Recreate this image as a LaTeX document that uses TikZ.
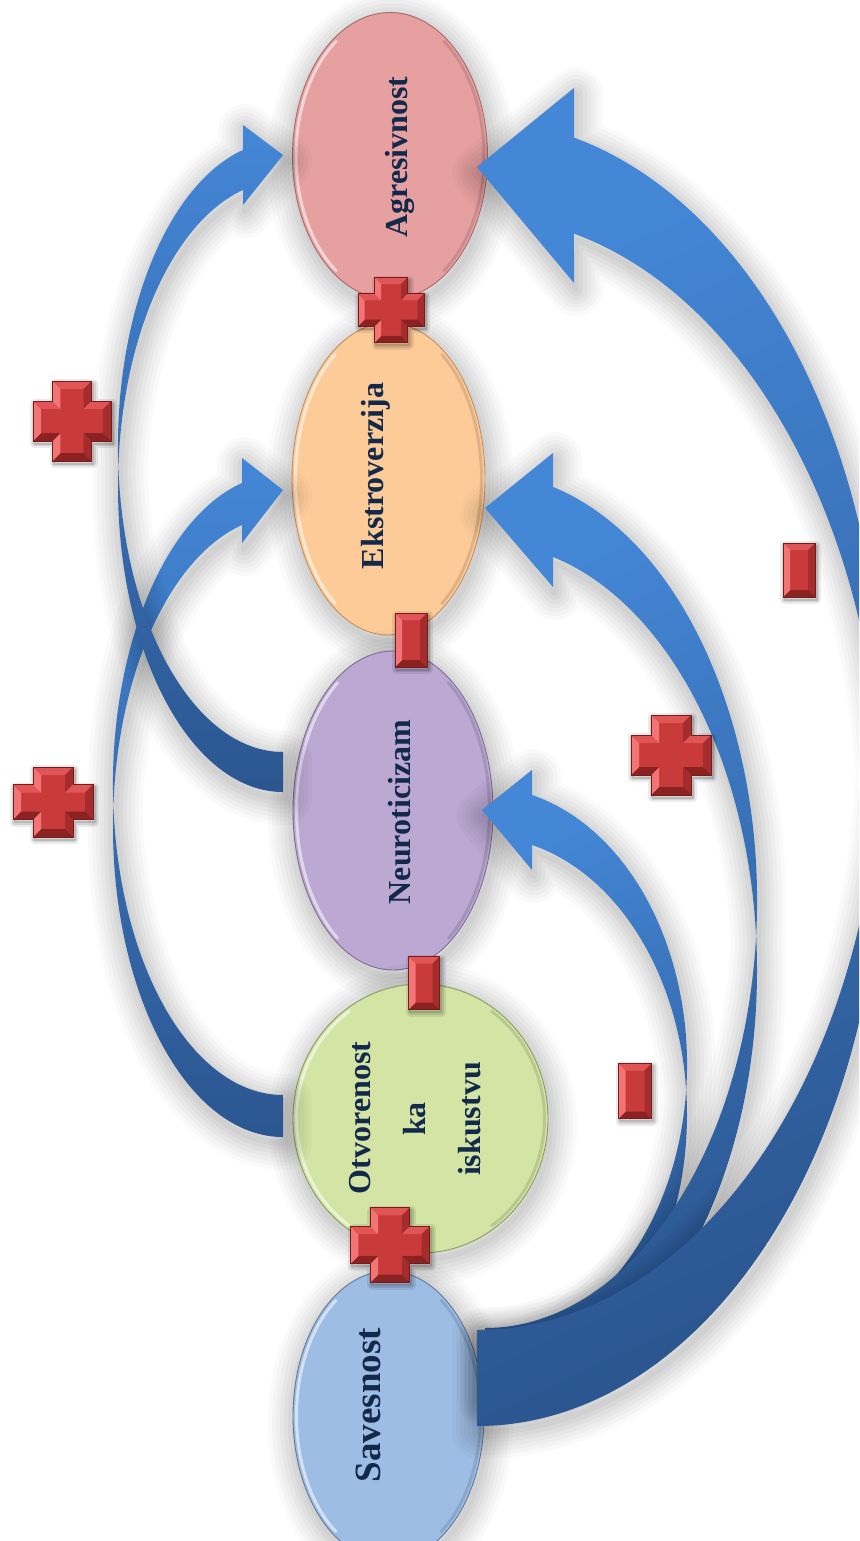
\documentclass[tikz,border=0pt]{standalone}
\usepackage{fontspec}
\setmainfont{Liberation Serif}
\usetikzlibrary{shapes.geometric}

\definecolor{txt}{HTML}{13294B}
\definecolor{agrfill}{HTML}{E6A0A0}
\definecolor{agrline}{HTML}{A86A6A}
\definecolor{ekfill}{HTML}{FDCB98}
\definecolor{ekline}{HTML}{C39160}
\definecolor{neufill}{HTML}{BBA8D3}
\definecolor{neuline}{HTML}{7E6C96}
\definecolor{otvfill}{HTML}{D3E4A4}
\definecolor{otvline}{HTML}{8C9C5E}
\definecolor{savfill}{HTML}{9EBDE4}
\definecolor{savline}{HTML}{62799A}
\definecolor{bandlight}{HTML}{4487D7}
\definecolor{banddark}{HTML}{2B5690}
\definecolor{signbase}{HTML}{C93B3B}
\definecolor{signlite}{HTML}{F27474}
\definecolor{signtop}{HTML}{E05656}
\definecolor{signright}{HTML}{A42C2C}
\definecolor{signbot}{HTML}{8A2222}
\definecolor{signedge}{HTML}{7A1A1A}

\tikzset{
  % one ring of a soft drop shadow
  hazering/.style 2 args={preaction={draw=black, draw opacity=#2, line width=#1,
      line join=round, transform canvas={xshift=2pt, yshift=-6pt}}},
  softshadow/.style={hazering={54pt}{.02}, hazering={46pt}{.022}, hazering={38pt}{.024},
      hazering={30pt}{.026}, hazering={22pt}{.028}, hazering={14pt}{.03},
      hazering={6pt}{.03}},
  signshadow/.style={preaction={draw=black, draw opacity=.08, line width=9pt, line join=round,
      transform canvas={xshift=1.5pt, yshift=-2.5pt}},
    preaction={draw=black, draw opacity=.1, line width=5pt, line join=round,
      transform canvas={xshift=1.5pt, yshift=-2.5pt}},
    preaction={draw=black, draw opacity=.12, line width=2pt, line join=round,
      transform canvas={xshift=1.5pt, yshift=-2.5pt}}},
  oval/.style={ellipse, inner sep=0pt, line width=0.9pt, softshadow},
  lbl/.style={text=txt, inner sep=0pt, rotate=90, anchor=base,
    font=\fontsize{32}{38}\selectfont\bfseries},
  rimlight/.style={white, opacity=0.55, line width=3pt, line cap=round},
  rimdark/.style={black, opacity=0.12, line width=3pt, line cap=round},
}

% bevel rims of an oval: light on the left, shaded on the right
\newcommand\ovalrims[3]{%
  \draw[rimlight] (#1.center) ++(125:#2 and #3)
    arc[start angle=125, end angle=235, x radius=#2, y radius=#3];
  \draw[rimdark] (#1.center) ++(-55:#2 and #3)
    arc[start angle=-55, end angle=55, x radius=#2, y radius=#3];
}

% curved block arrow: two equal half-ellipses offset vertically by the band thickness
% #1 x of tail and tip, #2 lower edge of tail, #3 thickness, #4 x radius, #5 y radius,
% #6 x of arrowhead base, #7 top of head, #8 bottom of head, #9 y of tip
\newcommand\bandarrow[9]{%
  \pgfmathsetmacro\bandal{acos(abs(#6-#1)/#4)}%
  \pgfmathsetmacro\bandsg{(#1-#6)/abs(#1-#6)}%
  \pgfmathsetmacro\banden{90+\bandsg*(90+\bandal)}%
  \pgfmathsetmacro\bandyt{#2-#3-#5-#5*sin(\bandal)}%
  \path[bandstyle] (#1,#2)
    arc[start angle=90, end angle=\banden, x radius=#4, y radius=#5]
    -- (#6,#8) -- (#1,#9) -- (#6,#7) -- (#6,\bandyt)
    arc[start angle=\banden, end angle=90, x radius=#4, y radius=#5] -- cycle;
}

% bevelled plus sign: centre x, centre y, half width, half height
\newcommand\plussign[4]{%
  \begin{scope}[shift={(#1,#2)}]
    \pgfmathsetmacro\sW{#3}\pgfmathsetmacro\sH{#4}%
    \pgfmathsetmacro\su{#3/2}\pgfmathsetmacro\sv{#4/2}%
    \pgfmathsetmacro\se{0.2*#3}%
    \coordinate (o0) at (-\su,-\sH);  \coordinate (o1) at (\su,-\sH);
    \coordinate (o2) at (\su,-\sv);   \coordinate (o3) at (\sW,-\sv);
    \coordinate (o4) at (\sW,\sv);    \coordinate (o5) at (\su,\sv);
    \coordinate (o6) at (\su,\sH);    \coordinate (o7) at (-\su,\sH);
    \coordinate (o8) at (-\su,\sv);   \coordinate (o9) at (-\sW,\sv);
    \coordinate (o10) at (-\sW,-\sv); \coordinate (o11) at (-\su,-\sv);
    \coordinate (i0) at (-\su+\se,-\sH+\se);  \coordinate (i1) at (\su-\se,-\sH+\se);
    \coordinate (i2) at (\su-\se,-\sv+\se);   \coordinate (i3) at (\sW-\se,-\sv+\se);
    \coordinate (i4) at (\sW-\se,\sv-\se);    \coordinate (i5) at (\su-\se,\sv-\se);
    \coordinate (i6) at (\su-\se,\sH-\se);    \coordinate (i7) at (-\su+\se,\sH-\se);
    \coordinate (i8) at (-\su+\se,\sv-\se);   \coordinate (i9) at (-\sW+\se,\sv-\se);
    \coordinate (i10) at (-\sW+\se,-\sv+\se); \coordinate (i11) at (-\su+\se,-\sv+\se);
    \fill[signbase, signshadow] (o0)--(o1)--(o2)--(o3)--(o4)--(o5)--(o6)--(o7)
      --(o8)--(o9)--(o10)--(o11)--cycle;
    \fill[signtop]   (o0)--(o1)--(i1)--(i0)--cycle;
    \fill[signright] (o1)--(o2)--(i2)--(i1)--cycle;
    \fill[signtop]   (o2)--(o3)--(i3)--(i2)--cycle;
    \fill[signright] (o3)--(o4)--(i4)--(i3)--cycle;
    \fill[signbot]   (o4)--(o5)--(i5)--(i4)--cycle;
    \fill[signright] (o5)--(o6)--(i6)--(i5)--cycle;
    \fill[signbot]   (o6)--(o7)--(i7)--(i6)--cycle;
    \fill[signlite]  (o7)--(o8)--(i8)--(i7)--cycle;
    \fill[signbot]   (o8)--(o9)--(i9)--(i8)--cycle;
    \fill[signlite]  (o9)--(o10)--(i10)--(i9)--cycle;
    \fill[signtop]   (o10)--(o11)--(i11)--(i10)--cycle;
    \fill[signlite]  (o11)--(o0)--(i0)--(i11)--cycle;
    \draw[signedge, line width=0.6pt, line join=miter] (o0)--(o1)--(o2)--(o3)--(o4)
      --(o5)--(o6)--(o7)--(o8)--(o9)--(o10)--(o11)--cycle;
  \end{scope}}

% bevelled minus sign (upright bar): centre x, centre y, half width, half height
\newcommand\minussign[4]{%
  \begin{scope}[shift={(#1,#2)}]
    \pgfmathsetmacro\sW{#3}\pgfmathsetmacro\sH{#4}\pgfmathsetmacro\se{7}%
    \coordinate (m0) at (-\sW,-\sH); \coordinate (m1) at (\sW,-\sH);
    \coordinate (m2) at (\sW,\sH);   \coordinate (m3) at (-\sW,\sH);
    \coordinate (n0) at (-\sW+\se,-\sH+\se); \coordinate (n1) at (\sW-\se,-\sH+\se);
    \coordinate (n2) at (\sW-\se,\sH-\se);   \coordinate (n3) at (-\sW+\se,\sH-\se);
    \fill[signbase, signshadow] (m0)--(m1)--(m2)--(m3)--cycle;
    \fill[signtop]   (m0)--(m1)--(n1)--(n0)--cycle;
    \fill[signright] (m1)--(m2)--(n2)--(n1)--cycle;
    \fill[signbot]   (m2)--(m3)--(n3)--(n2)--cycle;
    \fill[signlite]  (m3)--(m0)--(n0)--(n3)--cycle;
    \draw[signedge, line width=0.6pt] (m0)--(m1)--(m2)--(m3)--cycle;
  \end{scope}}

\begin{document}
\begin{tikzpicture}[x=1pt, y=-1pt]
  \useasboundingbox (0,0) rectangle (859,1541);
  \clip (0,0) rectangle (859,1541);
  \fill[white] (0,0) rectangle (859,1541);

  % the five traits
  \node[oval, fill=agrfill, draw=agrline, minimum width=195pt, minimum height=287pt] (agr) at (390,156) {};
  \node[oval, fill=ekfill, draw=ekline, minimum width=193pt, minimum height=312pt] (ekst) at (388.5,479) {};
  \node[oval, fill=neufill, draw=neuline, minimum width=200pt, minimum height=319pt] (neu) at (393,810.5) {};
  \node[oval, fill=otvfill, draw=otvline, minimum width=255pt, minimum height=269pt] (otv) at (420.5,1118.5) {};
  \node[oval, fill=savfill, draw=savline, minimum width=191pt, minimum height=290pt] (sav) at (388.5,1416) {};
  \ovalrims{agr}{94}{140}
  \ovalrims{ekst}{93}{152}
  \ovalrims{neu}{96.5}{156}
  \ovalrims{otv}{124}{131}
  \ovalrims{sav}{92}{141}

  % arrows on the left
  \begin{scope}[bandstyle/.style={softshadow, top color=bandlight, bottom color=banddark}]
    \bandarrow{283}{1137}{42}{170}{310.6}{242}{458}{543}{490}
    \bandarrow{283}{792}{40}{165}{305.6}{243}{125}{205}{155}
  \end{scope}

  % arrows on the right, all leaving Savesnost
  \begin{scope}[bandstyle/.style={softshadow, top color=bandlight, bottom color=banddark, shading angle=25}]
    \bandarrow{482}{1393}{50}{205}{278.2}{532}{770}{870}{810}
    \bandarrow{485}{1398}{70}{272}{427.3}{553}{453}{587}{508}
    \bandarrow{477}{1426}{96}{405}{605}{574}{88}{283}{167}
  \end{scope}

  % labels
  \node[lbl] (agr-t) at (407,157) {Agresivnost};
  \node[lbl] (ekst-t) at (383,476) {Ekstroverzija};
  \node[lbl] (neu-t) at (410,812) {Neuroticizam};
  \node[lbl] (otv-t1) at (370,1118) {Otvorenost};
  \node[lbl] (otv-t2) at (425,1119) {ka};
  \node[lbl] (otv-t3) at (480,1119) {iskustvu};
  \node[lbl, font=\fontsize{37}{44}\selectfont\bfseries] (sav-t) at (380,1405) {Savesnost};

  % signs
  \plussign{391}{310}{33}{32.5}
  \plussign{72}{421}{39}{40}
  \plussign{53}{802}{40}{35}
  \plussign{671}{755}{40}{40}
  \plussign{390}{1245}{39.5}{37.5}
  \minussign{411}{640}{16}{27}
  \minussign{424}{983}{15.5}{26.5}
  \minussign{799}{570}{16}{27}
  \minussign{635}{1091}{16.5}{27.5}
\end{tikzpicture}
\end{document}
